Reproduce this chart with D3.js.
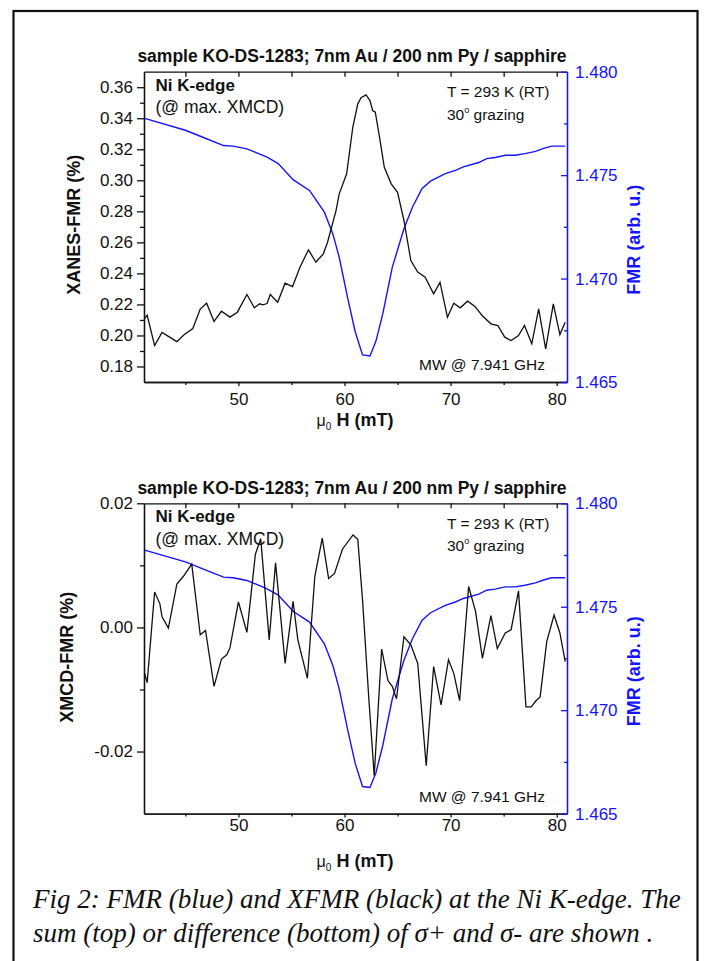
<html>
<head>
<style>
  body { margin: 0; background: #fff; }
  svg text { font-family: "Liberation Sans", Arial, sans-serif; fill: #111; }
  .title { font-weight: bold; font-size: 17.5px; }
  .axis text { font-size: 17px; fill: #111; }
  .axis path, .axis line { stroke: #111; stroke-width: 1.3; }
  .faxis text { fill: #1414ff; }
  .faxis path, .faxis line { stroke: #1414ff; }
  .ylab { font-weight: bold; font-size: 18px; }
  .note { font-size: 15.5px; }
  .caption { font-family: "Liberation Serif", "Times New Roman", serif; font-style: italic; font-size: 27px; fill: #111; }
</style>
<script src="https://d3js.org/d3.v7.min.js"></script>
</head>
<body>
<svg width="704" height="961"></svg>
<script>
// field axis (mT)
const fieldMajor = [50, 60, 70, 80];
const fieldMinor = [45, 55, 65, 75];

// top panel: XANES-FMR (%)
const xanesTicks = [0.18, 0.20, 0.22, 0.24, 0.26, 0.28, 0.30, 0.32, 0.34, 0.36];
const xanesMinor = [0.19, 0.21, 0.23, 0.25, 0.27, 0.29, 0.31, 0.33, 0.35];
const xanesField = [41.16, 41.4, 42.1, 42.8, 43.4, 44.2, 44.9, 45.7, 46.4, 47.0, 47.7, 48.4, 49.2, 49.9,
  50.8, 51.5, 52.0, 52.3, 52.7, 53.0, 53.7, 54.4, 55.1, 55.8, 56.6, 57.3, 58.0, 58.4, 59.2, 59.5,
  60.2, 60.78, 61.25, 61.56, 62.03, 62.4, 62.65, 62.9, 63.3, 63.75, 64.4, 65.0, 65.6, 66.25, 66.9,
  67.6, 68.4, 69.0, 69.7, 70.3, 70.9, 71.6, 72.3, 72.96, 73.8, 74.45, 75.1, 75.7, 76.4, 76.96,
  77.65, 78.3, 78.96, 79.68, 80.3, 80.8];
const xanesFmr = [0.211, 0.213, 0.1935, 0.202, 0.1994, 0.196, 0.2006, 0.2045, 0.217, 0.2208, 0.209, 0.2156, 0.2118, 0.215,
  0.2264, 0.2178, 0.2204, 0.2197, 0.2206, 0.2264, 0.2214, 0.2337, 0.2315, 0.244, 0.2552, 0.2472, 0.2526, 0.2601, 0.2805, 0.2913,
  0.3042, 0.3342, 0.3493, 0.3532, 0.3551, 0.3514, 0.345, 0.3439, 0.3278, 0.3084, 0.2977, 0.2923, 0.2741, 0.2483, 0.2408,
  0.2375, 0.2268, 0.2343, 0.2118, 0.2208, 0.2178, 0.2221, 0.2187, 0.2129, 0.2075, 0.2064, 0.1989, 0.1967, 0.1999, 0.2064,
  0.1946, 0.2172, 0.1914, 0.2204, 0.2006, 0.2085];

// bottom panel: XMCD-FMR (%)
const xmcdTicks = [-0.02, 0.00, 0.02];
const xmcdMinor = [-0.01, 0.01];
const xmcdField = [41.16, 41.4, 42.1, 42.6, 42.8, 43.4, 44.2, 44.8, 45.6, 46.4, 46.9, 47.7, 48.4, 48.9, 49.2, 50.0,
  50.8, 51.6, 52.1, 52.9, 53.5, 54.4, 55.15, 55.6, 56.5, 57.2, 57.9, 58.5, 59.06, 59.8, 60.8, 61.25, 61.7,
  62.3, 62.8, 63.5, 64.1, 64.5, 64.9, 65.6, 66.25, 66.9, 67.7, 68.4, 69.1, 69.8, 70.3, 70.85, 71.7, 72.35,
  73.0, 73.8, 74.4, 75.15, 75.7, 76.4, 77.1, 77.6, 78.0, 78.44, 79.06, 79.75, 80.3, 80.8];
const xmcdFmr = [-0.0074, -0.0089, 0.0057, 0.0038, 0.0017, -0.0001, 0.007, 0.0082, 0.0102, -0.0012, -0.0005, -0.0095, -0.0051, -0.0044, -0.0033, 0.0041,
  -0.0008, 0.0118, 0.0143, -0.002, 0.0104, -0.0058, 0.0042, -0.002, -0.0082, 0.0082, 0.0144, 0.0079, 0.0087, 0.0126, 0.0149, 0.0142, 0.0044,
  -0.0117, -0.0239, -0.0035, -0.0086, -0.0095, -0.0115, -0.0015, -0.0028, -0.0058, -0.0223, -0.0063, -0.0125, -0.0052, -0.0074, -0.0118, 0.0066, 0.0026,
  -0.005, 0.0019, -0.0034, -0.0009, -0.0004, 0.0059, -0.0128, -0.0128, -0.0119, -0.0112, -0.0023, 0.002, -0.0009, -0.0055];

// FMR (arb. u.), same trace in both panels
const fmrTicks = [1.465, 1.470, 1.475, 1.480];
const fmrMinor = [1.4675, 1.4725, 1.4775];
const fmrField = [41.16, 45.0, 46.7, 48.6, 49.5, 50.8, 52.66, 53.75, 55.15, 56.7, 58.1, 58.9, 59.5, 60.3, 61.0,
  61.7, 62.4, 62.97, 63.6, 64.5, 65.6, 66.4, 67.3, 68.1, 69.5, 70.45, 71.2, 72.65, 73.4, 74.2, 75.15,
  76.1, 77.0, 78.0, 78.7, 79.5, 80.8];
const fmrSignal = [1.47774, 1.47717, 1.47682, 1.47643, 1.4764, 1.47627, 1.47588, 1.47556, 1.47478, 1.47426, 1.47321, 1.47216, 1.47103, 1.46905, 1.46744,
  1.46631, 1.46626, 1.46699, 1.46828, 1.47054, 1.47241, 1.47345, 1.47434, 1.47471, 1.47507, 1.47523, 1.4754, 1.47561, 1.4758, 1.47585, 1.47596,
  1.47596, 1.47604, 1.47615, 1.47628, 1.4764, 1.4764];

const svg = d3.select("svg");
const left = 144, right = 567, plotH = 310.3;
const xs = d3.scaleLinear().domain([41.1, 80.97]).range([left, right]);

function panel(top, cfg) {
  const bottom = top + plotH;
  const g = svg.append("g");
  const ys = d3.scaleLinear().domain(cfg.domain).range([bottom, top]);
  const yr = d3.scaleLinear().domain([1.465, 1.480]).range([bottom, top]);

  // top frame with inward ticks
  g.append("g").attr("class", "axis").attr("transform", "translate(0," + top + ")")
    .call(d3.axisTop(xs).tickValues(fieldMajor.concat(fieldMinor)).tickSize(-5).tickSizeOuter(0).tickFormat(""));

  // bottom axis
  g.append("g").attr("class", "axis").attr("transform", "translate(0," + bottom + ")")
    .call(d3.axisBottom(xs).tickValues(fieldMinor).tickSize(3).tickSizeOuter(0).tickFormat(""));
  g.append("g").attr("class", "axis").attr("transform", "translate(0," + bottom + ")")
    .call(d3.axisBottom(xs).tickValues(fieldMajor).tickSize(4).tickPadding(cfg.xpad).tickSizeOuter(0).tickFormat(d3.format("d")));

  // left axis
  g.append("g").attr("class", "axis").attr("transform", "translate(" + left + ",0)")
    .call(d3.axisLeft(ys).tickValues(cfg.minor).tickSize(4).tickSizeOuter(0).tickFormat(""));
  g.append("g").attr("class", "axis").attr("transform", "translate(" + left + ",0)")
    .call(d3.axisLeft(ys).tickValues(cfg.ticks).tickSize(7).tickPadding(4).tickSizeOuter(0).tickFormat(d => d.toFixed(2)));

  // right axis (FMR), blue, inward ticks
  g.append("g").attr("class", "axis faxis").attr("transform", "translate(" + right + ",0)")
    .call(d3.axisRight(yr).tickValues(fmrMinor).tickSize(-3).tickSizeOuter(0).tickFormat(""));
  g.append("g").attr("class", "axis faxis").attr("transform", "translate(" + right + ",0)")
    .call(d3.axisRight(yr).tickValues(fmrTicks).tickSize(-6).tickPadding(8).tickSizeOuter(0).tickFormat(d => d.toFixed(3)));

  // curves
  const fmrPts = fmrField.map((h, i) => [h, fmrSignal[i]]);
  g.append("path").datum(fmrPts)
    .attr("fill", "none").attr("stroke", "#1414ff").attr("stroke-width", 1.4)
    .attr("d", d3.line().x(d => xs(d[0])).y(d => yr(d[1])));
  const pts = cfg.field.map((h, i) => [h, cfg.values[i]]);
  g.append("path").datum(pts)
    .attr("fill", "none").attr("stroke", "#111").attr("stroke-width", 1.3)
    .attr("d", d3.line().x(d => xs(d[0])).y(d => ys(d[1])));

  // texts
  g.append("text").attr("class", "title").attr("x", 352).attr("y", top - 9.5)
    .attr("text-anchor", "middle").text("sample KO-DS-1283; 7nm Au / 200 nm Py / sapphire");
  g.append("text").attr("class", "ylab")
    .attr("transform", "translate(" + cfg.ylabX + "," + (top + cfg.ylabDy) + ") rotate(-90)")
    .attr("text-anchor", "middle").text(cfg.ylabel);
  g.append("text").attr("class", "ylab").style("fill", "#1414ff")
    .attr("transform", "translate(640," + (top + 168) + ") rotate(-90)")
    .attr("text-anchor", "middle").text("FMR (arb. u.)");

  g.append("text").attr("x", 155.5).attr("y", top + 19).style("font-weight", "bold").style("font-size", "17px").text("Ni K-edge");
  g.append("text").attr("x", 155.5).attr("y", top + 41.5).style("font-size", "17.5px").text("(@ max. XMCD)");
  g.append("text").attr("class", "note").attr("x", 447).attr("y", top + 25.5).text("T = 293 K (RT)");
  const gr = g.append("text").attr("class", "note").attr("x", 447).attr("y", top + 48);
  gr.append("tspan").text("30");
  gr.append("tspan").attr("dy", -7).style("font-size", "9px").text("o");
  gr.append("tspan").attr("dy", 7).text(" grazing");
  g.append("text").attr("class", "note").attr("x", 419).attr("y", top + 298.5).text("MW @ 7.941 GHz");

  // field label
  const xl = g.append("text").attr("x", 355).attr("y", bottom + cfg.xlabDy).attr("text-anchor", "middle");
  xl.append("tspan").style("font-size", "16px").text("\u03bc");
  xl.append("tspan").attr("dy", 4).style("font-size", "10px").text("0");
  xl.append("tspan").attr("dy", -4).style("font-weight", "bold").style("font-size", "18px").text(" H (mT)");
}

panel(71.7, {domain: [0.17, 0.37], ticks: xanesTicks, minor: xanesMinor, field: xanesField, values: xanesFmr,
  ylabel: "XANES-FMR (%)", ylabX: 80, ylabDy: 153, xpad: 7, xlabDy: 44});
panel(503.3, {domain: [-0.03, 0.02], ticks: xmcdTicks, minor: xmcdMinor, field: xmcdField, values: xmcdFmr,
  ylabel: "XMCD-FMR (%)", ylabX: 73, ylabDy: 154, xpad: 1, xlabDy: 53});

// caption and frame
svg.append("text").attr("class", "caption").attr("x", 33).attr("y", 908)
  .text("Fig 2: FMR (blue) and XFMR (black) at the Ni K-edge. The");
svg.append("text").attr("class", "caption").attr("x", 33).attr("y", 942)
  .text("sum (top) or difference (bottom) of \u03c3+ and \u03c3- are shown .");
svg.append("rect").attr("x", 13.5).attr("y", 11).attr("width", 684).attr("height", 980)
  .attr("fill", "none").attr("stroke", "#111").attr("stroke-width", 2.2);
</script>
</body>
</html>
